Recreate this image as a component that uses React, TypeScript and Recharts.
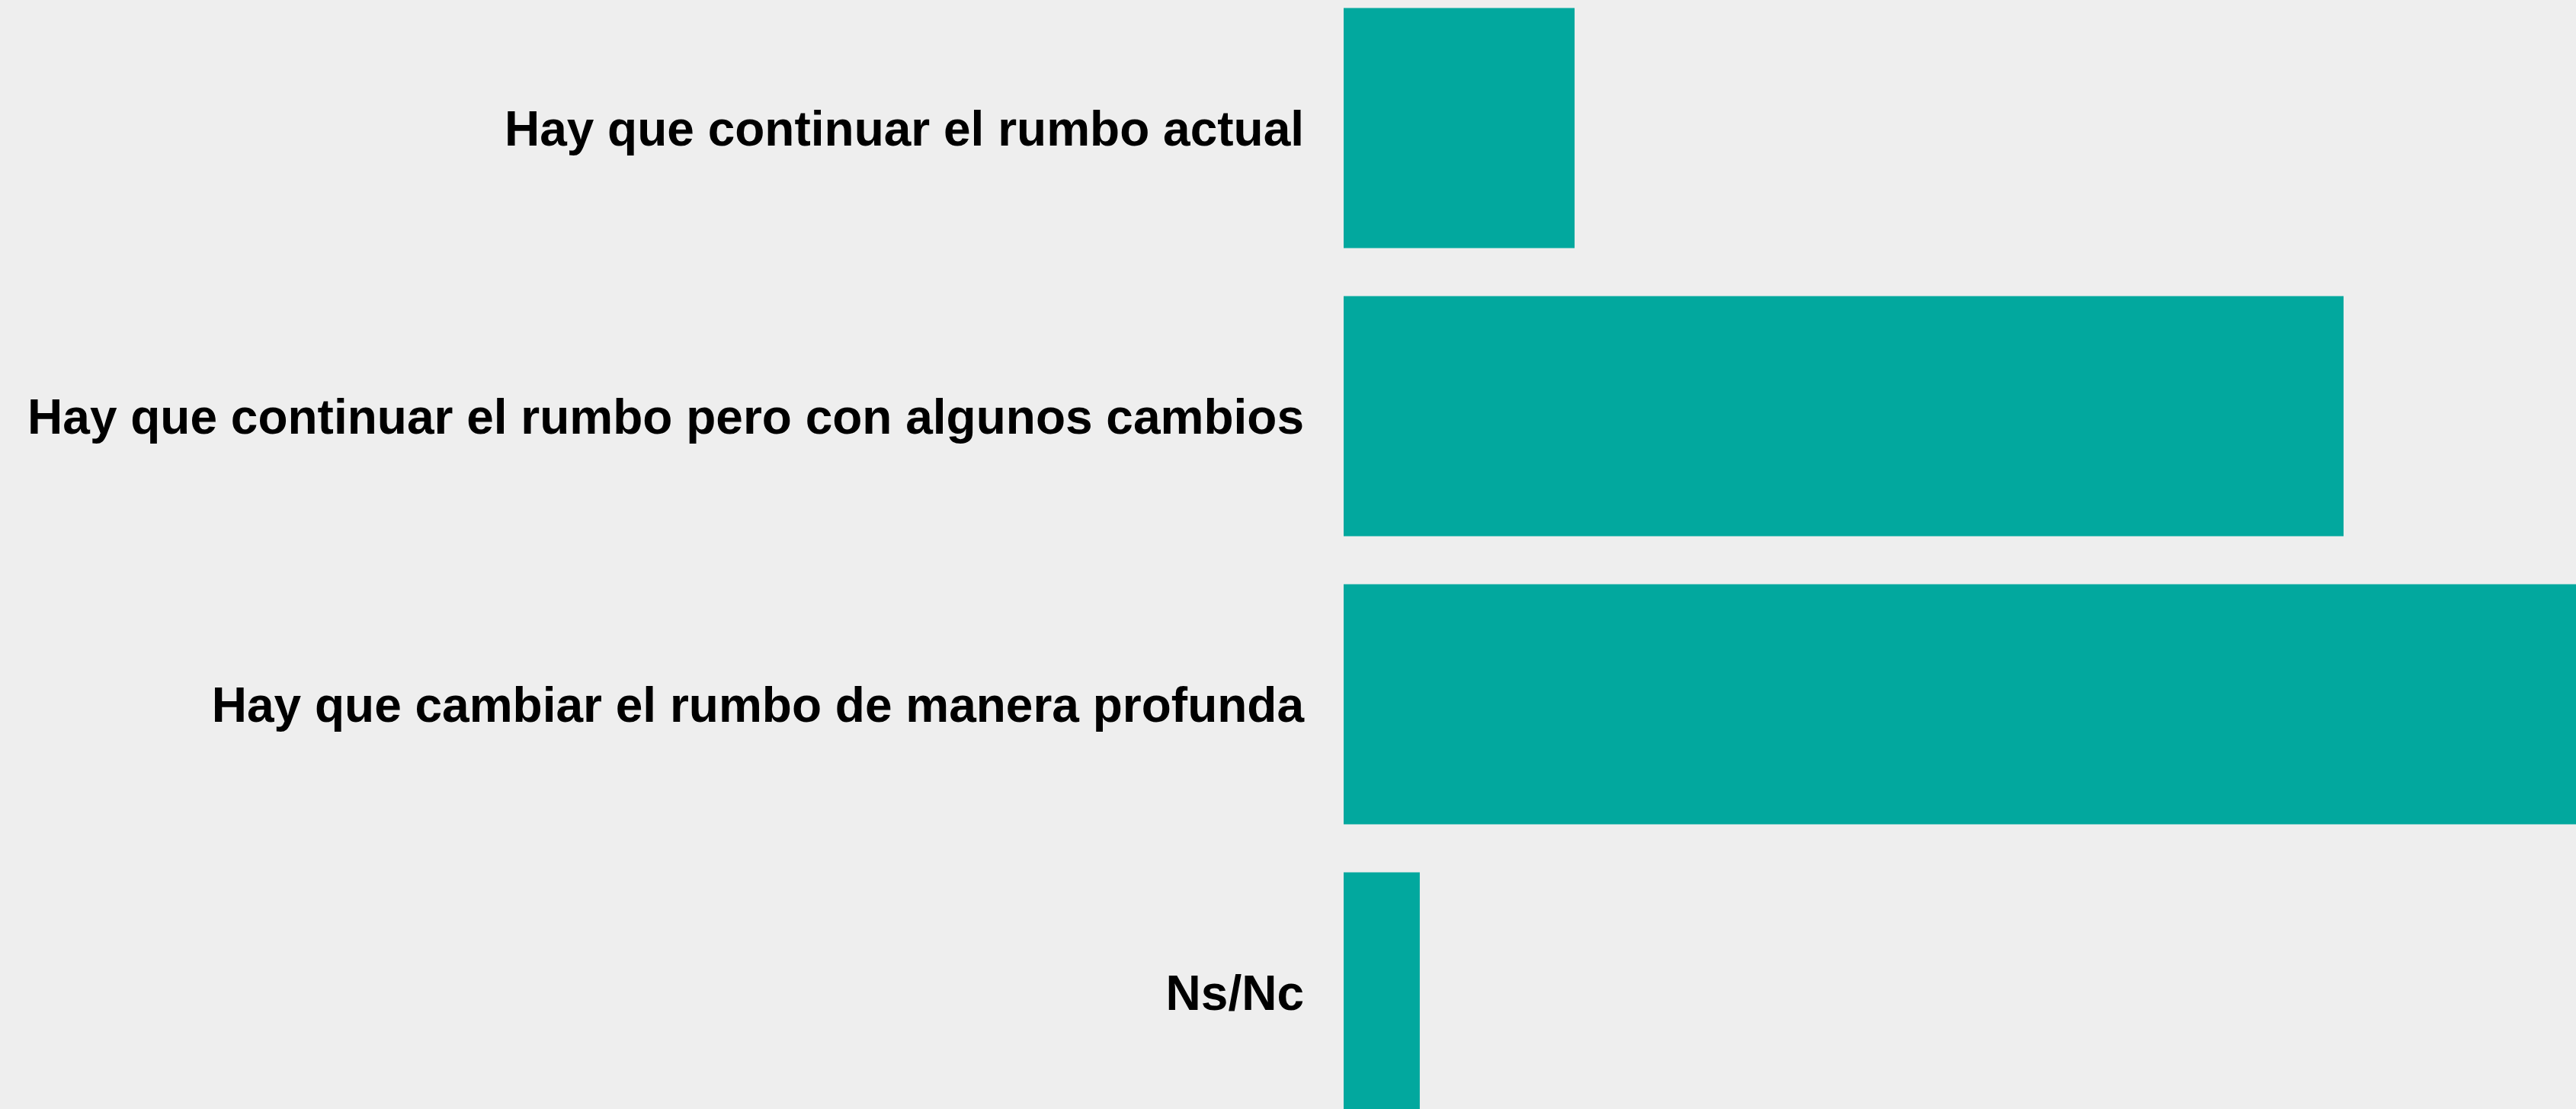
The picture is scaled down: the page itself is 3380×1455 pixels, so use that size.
import { Bar, BarChart, XAxis, YAxis } from 'recharts';

const categories = [
  'Hay que continuar el rumbo actual',
  'Hay que continuar el rumbo pero con algunos cambios',
  'Hay que cambiar el rumbo de manera profunda',
  'Ns/Nc',
];
const values = [9.1, 39.4, 49.0, 3.0];

const data = categories.map((name, i) => ({ name, value: values[i] }));

function App() {
  return (
    <div
      style={{
        position: 'absolute',
        left: 0,
        top: 0,
        width: 3380,
        height: 1455,
        overflow: 'hidden',
        background: '#eeeeee',
      }}
    >
      <div style={{ position: 'absolute', left: 0, top: -21.5 }}>
        <BarChart
          width={3428}
          height={1512}
          data={data}
          layout='vertical'
          barCategoryGap='8.333%'
          margin={{ top: 0, right: 0, left: 0, bottom: 0 }}
        >
          <XAxis type='number' domain={[0, 50]} hide />
          <YAxis
            type='category'
            dataKey='name'
            width={1763}
            axisLine={false}
            tickLine={false}
            tickSize={0}
            tickMargin={52}
            interval={0}
            tick={{
              fill: '#000000',
              fontSize: 64,
              fontWeight: 'bold',
              fontFamily: '"Liberation Sans", Arial, sans-serif',
            }}
          />
          <Bar dataKey='value' fill='#02a89e' isAnimationActive={false} />
        </BarChart>
      </div>
    </div>
  );
}

export default App;
